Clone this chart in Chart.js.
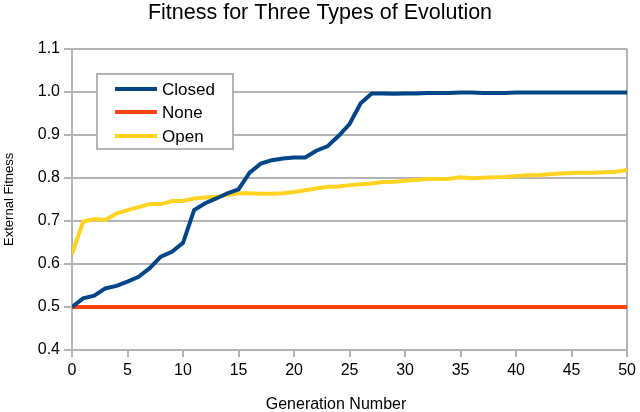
<!DOCTYPE html>
<html>
<head>
<meta charset="utf-8">
<script src="https://cdn.jsdelivr.net/npm/chart.js@4"></script>
<style>
html,body{margin:0;padding:0;background:#fff;}
#wrap{width:640px;height:412px;}
</style>
</head>
<body>
<div id="wrap"><canvas id="c" width="640" height="412"></canvas></div>
<script>
const generations = [0,1,2,3,4,5,6,7,8,9,10,11,12,13,14,15,16,17,18,19,20,21,22,23,24,25,26,27,28,29,30,31,32,33,34,35,36,37,38,39,40,41,42,43,44,45,46,47,48,49,50];
const closedFitness = [0.500,0.520,0.526,0.543,0.549,0.559,0.570,0.590,0.617,0.628,0.649,0.725,0.741,0.752,0.764,0.773,0.812,0.833,0.841,0.845,0.847,0.847,0.863,0.873,0.897,0.925,0.973,0.996,0.996,0.995,0.996,0.996,0.997,0.997,0.997,0.998,0.998,0.997,0.997,0.997,0.998,0.998,0.998,0.998,0.998,0.998,0.998,0.998,0.998,0.998,0.998];
const noneFitness = [0.5,0.5,0.5,0.5,0.5,0.5,0.5,0.5,0.5,0.5,0.5,0.5,0.5,0.5,0.5,0.5,0.5,0.5,0.5,0.5,0.5,0.5,0.5,0.5,0.5,0.5,0.5,0.5,0.5,0.5,0.5,0.5,0.5,0.5,0.5,0.5,0.5,0.5,0.5,0.5,0.5,0.5,0.5,0.5,0.5,0.5,0.5,0.5,0.5,0.5,0.5];
const openFitness = [0.623,0.698,0.704,0.702,0.717,0.725,0.732,0.739,0.739,0.746,0.746,0.752,0.754,0.756,0.760,0.764,0.764,0.763,0.763,0.764,0.767,0.771,0.775,0.779,0.780,0.783,0.785,0.787,0.790,0.791,0.793,0.795,0.797,0.797,0.798,0.801,0.799,0.800,0.801,0.802,0.804,0.806,0.806,0.808,0.810,0.811,0.812,0.812,0.813,0.814,0.818];
const seriesNames = ['Closed','None','Open'];
const seriesColors = ['#004586','#ff420e','#ffd320'];
const chartTitle = 'Fitness for Three Types of Evolution';
const xTitle = 'Generation Number';
const yTitle = 'External Fitness';

const FONT = "'Liberation Sans', Arial, sans-serif";
const GRID = '#b3b3b3';

function pts(vals){ return generations.map((g,i)=>({x:g,y:vals[i]})); }

const legendBox = {
  id:'legendBox',
  afterDatasetsDraw(chart){
    const ctx = chart.ctx;
    ctx.save();
    const x0=97,y0=74,w=136,h=75;
    ctx.fillStyle='#fff';
    ctx.fillRect(x0,y0,w,h);
    ctx.strokeStyle=GRID; ctx.lineWidth=2;
    ctx.strokeRect(x0,y0,w,h);
    const rows=[89,112,136];
    chart.data.datasets.forEach((ds,i)=>{
      ctx.strokeStyle=ds.borderColor; ctx.lineWidth=4;
      ctx.beginPath(); ctx.moveTo(115,rows[i]); ctx.lineTo(157,rows[i]); ctx.stroke();
      ctx.fillStyle='#000'; ctx.font='17px '+FONT; ctx.textBaseline='middle'; ctx.textAlign='left';
      ctx.fillText(ds.label,162,rows[i]+1);
    });
    // x-axis title
    ctx.font='16px '+FONT; ctx.textAlign='center'; ctx.textBaseline='middle';
    ctx.fillText(xTitle,336,405);
    // chart title
    ctx.font='21.5px '+FONT;
    ctx.fillText(chartTitle,320,13);
    ctx.restore();
  }
};

new Chart(document.getElementById('c'),{
  type:'line',
  data:{datasets:[
    {label:seriesNames[0],data:pts(closedFitness),borderColor:seriesColors[0],backgroundColor:seriesColors[0],borderWidth:4,pointRadius:0,tension:0},
    {label:seriesNames[1],data:pts(noneFitness),borderColor:seriesColors[1],backgroundColor:seriesColors[1],borderWidth:4,pointRadius:0,tension:0},
    {label:seriesNames[2],data:pts(openFitness),borderColor:seriesColors[2],backgroundColor:seriesColors[2],borderWidth:4,pointRadius:0,tension:0}
  ]},
  options:{
    responsive:false,animation:false,
    layout:{padding:{left:0,right:11,top:0,bottom:0}},
    plugins:{
      legend:{display:false},tooltip:{enabled:false},
      title:{display:true,text:chartTitle,color:'rgba(0,0,0,0)',font:{family:FONT,size:21.5,weight:'normal',lineHeight:1.1},padding:{top:0,bottom:25}}
    },
    scales:{
      x:{type:'linear',min:0,max:50,
        ticks:{stepSize:5,color:'#000',font:{family:FONT,size:16},padding:4,maxRotation:0},
        grid:{drawOnChartArea:true,color:(c)=>c.tick && c.tick.value===50?GRID:'rgba(0,0,0,0)',tickColor:GRID,tickLength:7,lineWidth:2},
        border:{display:true,color:GRID,width:2},
        title:{display:false},
        afterFit(s){s.height=62;}
      },
      y:{min:0.4,max:1.1,
        ticks:{stepSize:0.1,color:'#000',font:{family:FONT,size:16},padding:4,callback:(v)=>v.toFixed(1)},
        grid:{color:GRID,tickColor:GRID,tickLength:8,lineWidth:2},
        border:{display:true,color:GRID,width:2},
        title:{display:true,text:yTitle,color:'#000',font:{family:FONT,size:13,lineHeight:1.2},padding:{top:2,bottom:0}},
        afterFit(s){s.width=72;}
      }
    }
  },
  plugins:[legendBox]
});
</script>
</body>
</html>
